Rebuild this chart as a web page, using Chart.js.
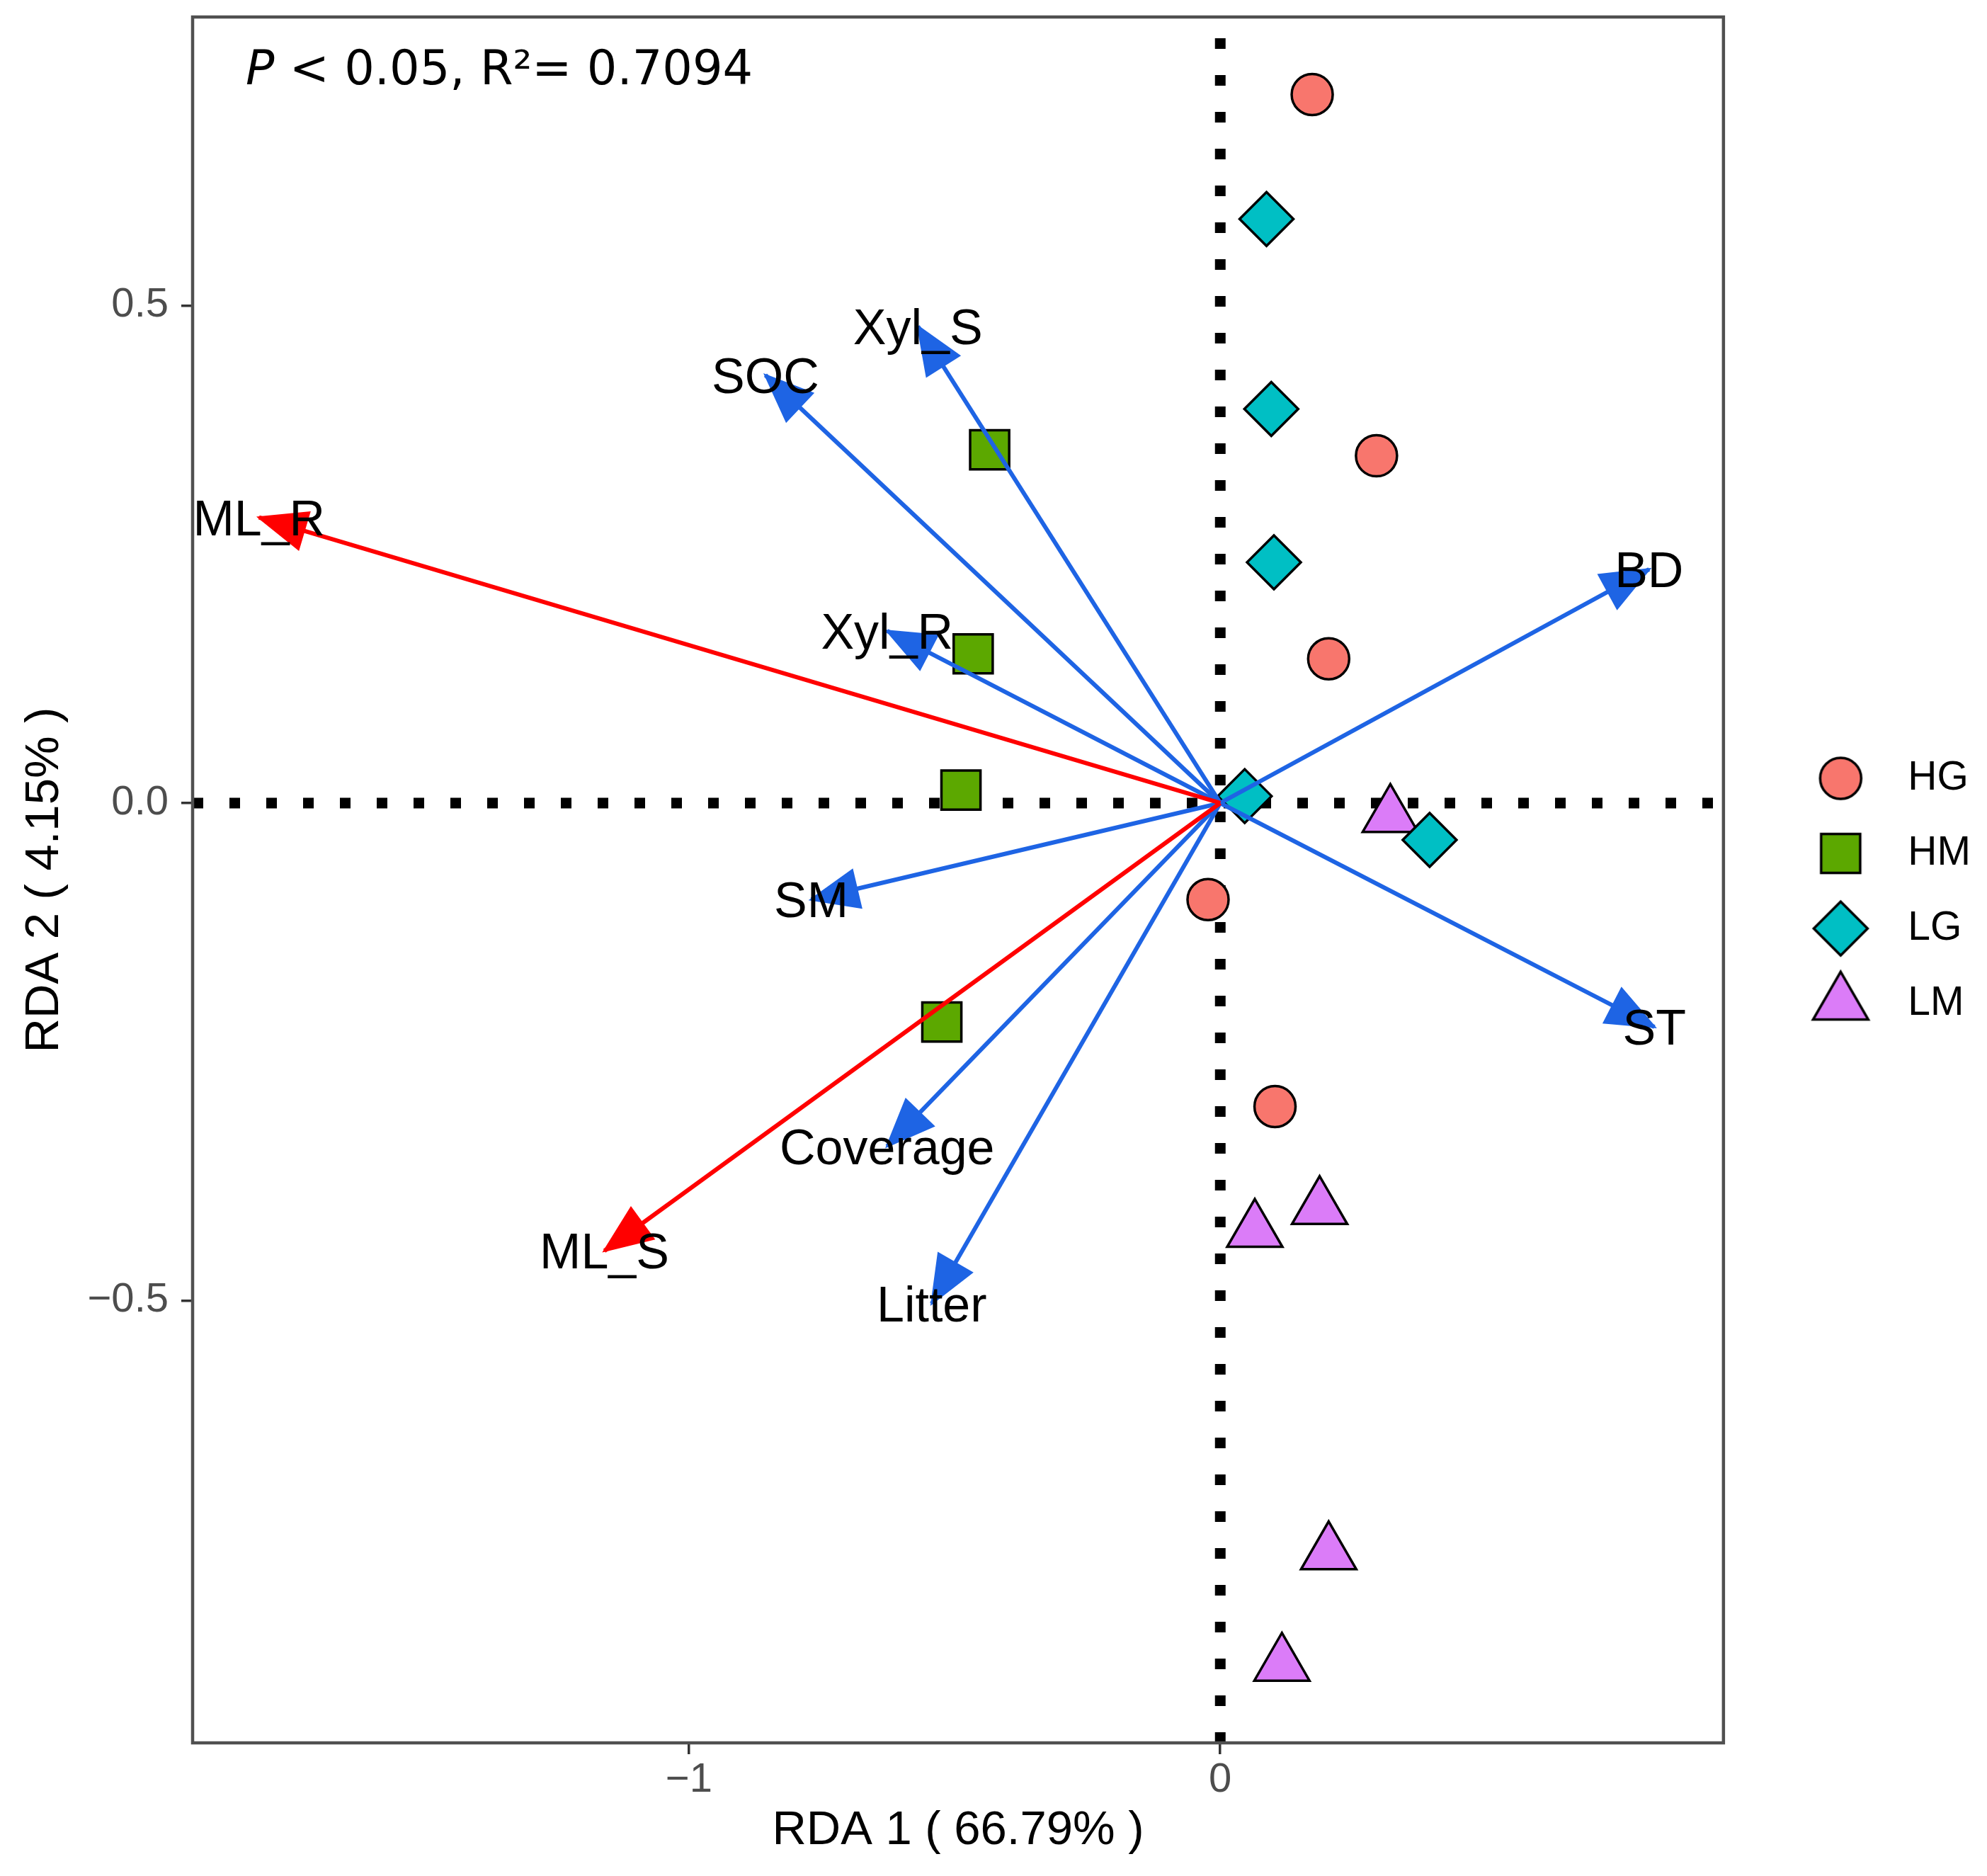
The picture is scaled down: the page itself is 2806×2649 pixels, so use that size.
<!DOCTYPE html>
<html>
<head>
<meta charset="utf-8">
<script src="https://cdn.jsdelivr.net/npm/chart.js@4.4.1/dist/chart.umd.min.js"></script>
<style>html,body{margin:0;padding:0;background:#fff}</style>
</head>
<body>
<canvas id="rda" width="2806" height="2649"></canvas>
<script>
// sample groups
const groups = ['HG', 'HM', 'LG', 'LM'];
const hgX = [0.173, 0.294, 0.204, -0.023, 0.103];
const hgY = [0.712, 0.349, 0.145, -0.097, -0.305];
const hmX = [-0.434, -0.465, -0.488, -0.524];
const hmY = [0.355, 0.150, 0.013, -0.220];
const lgX = [0.087, 0.096, 0.101, 0.046, 0.394];
const lgY = [0.587, 0.396, 0.242, 0.007, -0.037];
const lmX = [0.320, 0.187, 0.065, 0.204, 0.116];
const lmY = [-0.013, -0.407, -0.430, -0.754, -0.866];

// environmental vectors (arrow tips)
const envNames = ['ML_R', 'ML_S', 'SOC', 'Xyl_S', 'Xyl_R', 'SM', 'Coverage', 'Litter', 'BD', 'ST'];
const envX = [-1.809, -1.159, -0.856, -0.569, -0.627, -0.770, -0.627, -0.543, 0.807, 0.817];
const envY = [0.287, -0.450, 0.430, 0.479, 0.173, -0.097, -0.345, -0.503, 0.235, -0.225];
const keyVars = ['ML_R', 'ML_S'];

// axes
const xLimits = [-1.934, 0.947];
const yLimits = [-0.9445, 0.790];
const xTicks = [-1, 0];
const yTicks = [-0.5, 0.0, 0.5];
const xTitle = 'RDA 1 ( 66.79% )';
const yTitle = 'RDA 2 ( 4.15% )';
const statP = 'P';
const statRest = ' < 0.05, R\u00b2= 0.7094';

const groupColors = ['#F8766D', '#5CA800', '#00BFC4', '#DB7CF8'];
const groupShapes = ['circle', 'rect', 'rectRot', 'triangle'];
const groupRadius = [29, 39, 38, 45];
const groupX = [hgX, hmX, lgX, lmX];
const groupY = [hgY, hmY, lgY, lmY];

Chart.defaults.font.family = '"Liberation Sans", Arial, sans-serif';

const minus = v => (v < 0 ? '\u2212' : '') + Math.abs(v);

function legendImage(i) {
    const r = groupRadius[i];
    const s = Math.ceil(2 * r + 12);
    const c = document.createElement('canvas');
    c.width = s; c.height = s;
    const g = c.getContext('2d');
    g.fillStyle = groupColors[i];
    g.strokeStyle = '#000';
    g.lineWidth = 3.5;
    if (Chart.helpers && Chart.helpers.drawPoint) {
        Chart.helpers.drawPoint(g, {pointStyle: groupShapes[i], radius: r, rotation: 0, borderWidth: 3.5}, s / 2, s / 2);
        return c;
    }
    return groupShapes[i];
}
const legendImgs = groups.map((_, i) => legendImage(i));

const datasets = [];

groups.forEach((name, i) => {
    datasets.push({
        label: name,
        data: groupX[i].map((x, k) => ({x, y: groupY[i][k]})),
        pointStyle: groupShapes[i],
        pointRadius: groupRadius[i],
        pointHoverRadius: groupRadius[i],
        backgroundColor: groupColors[i],
        borderColor: '#000',
        borderWidth: 3.5,
        order: 2
    });
});

envNames.forEach((name, i) => {
    const col = keyVars.includes(name) ? '#FF0000' : '#1E64E4';
    datasets.push({
        label: name,
        isArrow: true,
        data: [{x: 0, y: 0}, {x: envX[i], y: envY[i]}],
        showLine: true,
        borderColor: col,
        backgroundColor: col,
        borderWidth: 6,
        pointRadius: 0,
        order: 1
    });
});

/* zero reference lines */
datasets.push({
    label: 'zeroX',
    data: [{x: 0, y: yLimits[0]}, {x: 0, y: yLimits[1]}],
    showLine: true, borderColor: '#000', borderWidth: 15, borderDash: [15, 37],
    pointRadius: 0, order: 3
});
datasets.push({
    label: 'zeroY',
    data: [{x: xLimits[0], y: 0}, {x: xLimits[1], y: 0}],
    showLine: true, borderColor: '#000', borderWidth: 15, borderDash: [15, 37],
    pointRadius: 0, order: 3
});

const arrowPlugin = {
    id: 'arrows',
    afterDatasetsDraw(chart) {
        const ctx = chart.ctx;
        chart.data.datasets.forEach((ds, i) => {
            if (!ds.isArrow) return;
            const pts = chart.getDatasetMeta(i).data;
            const a = pts[0], b = pts[1];
            const ang = Math.atan2(b.y - a.y, b.x - a.x);
            ctx.save();
            ctx.translate(b.x, b.y);
            ctx.rotate(ang);
            ctx.beginPath();
            ctx.moveTo(0, 0);
            ctx.lineTo(-66, -27);
            ctx.lineTo(-66, 27);
            ctx.closePath();
            ctx.fillStyle = ds.borderColor;
            ctx.strokeStyle = ds.borderColor;
            ctx.lineWidth = 3;
            ctx.fill();
            ctx.stroke();
            ctx.restore();
        });
        ctx.save();
        ctx.font = '70px "Liberation Sans", Arial, sans-serif';
        ctx.fillStyle = '#000';
        ctx.textAlign = 'center';
        ctx.textBaseline = 'alphabetic';
        chart.data.datasets.forEach((ds, i) => {
            if (!ds.isArrow) return;
            const b = chart.getDatasetMeta(i).data[1];
            ctx.fillText(ds.label, b.x, b.y + 25);
        });
        ctx.restore();
    }
};

const framePlugin = {
    id: 'frame',
    afterDraw(chart) {
        const {ctx, chartArea: a} = chart;
        ctx.save();
        ctx.strokeStyle = '#505050';
        ctx.lineWidth = 4.5;
        ctx.strokeRect(a.left, a.top, a.right - a.left, a.bottom - a.top);
        // stats text
        ctx.fillStyle = '#000';
        ctx.textBaseline = 'alphabetic';
        ctx.font = 'italic 67px "DejaVu Sans"';
        ctx.fillText(statP, 347, 119);
        const w = ctx.measureText(statP).width;
        ctx.font = '67px "DejaVu Sans"';
        ctx.fillText(statRest, 347 + w, 119);
        ctx.restore();
    }
};

const noPad = s => { s.paddingTop = 0; s.paddingBottom = 0; s.paddingLeft = 0; s.paddingRight = 0; };

new Chart(document.getElementById('rda'), {
    type: 'scatter',
    data: {datasets},
    options: {
        responsive: false,
        devicePixelRatio: 1,
        animation: false,
        layout: {autoPadding: false, padding: {top: 24, right: 13, bottom: 0, left: 0}},
        scales: {
            x: {
                type: 'linear',
                min: xLimits[0],
                max: xLimits[1],
                afterBuildTicks: s => { s.ticks = xTicks.map(value => ({value})); },
                afterFit: s => { s.height = 188; noPad(s); },
                grid: {drawOnChartArea: false, drawTicks: true, tickLength: 16, color: '#333', lineWidth: 3.5},
                border: {display: false},
                ticks: {callback: v => minus(v), color: '#4D4D4D', font: {size: 58}, padding: 2},
                title: {display: true, text: xTitle, color: '#000', font: {size: 67}, padding: {top: 0, bottom: 23}}
            },
            y: {
                type: 'linear',
                min: yLimits[0],
                max: yLimits[1],
                afterBuildTicks: s => { s.ticks = yTicks.map(value => ({value})); },
                afterFit: s => { s.width = 272; noPad(s); },
                grid: {drawOnChartArea: false, drawTicks: true, tickLength: 16, color: '#333', lineWidth: 3.5},
                border: {display: false},
                ticks: {callback: v => (v < 0 ? '\u2212' : '') + Math.abs(v).toFixed(1), color: '#4D4D4D', font: {size: 58}, padding: 18},
                title: {display: true, text: yTitle, color: '#000', font: {size: 67}, padding: {top: 23, bottom: 0}}
            },
            gap: {
                type: 'linear',
                axis: 'y',
                position: 'right',
                display: true,
                grid: {display: false, drawTicks: false},
                border: {display: false},
                ticks: {display: false},
                afterFit: s => { s.width = 50; noPad(s); }
            }
        },
        plugins: {
            tooltip: {enabled: false},
            legend: {
                position: 'right',
                fullSize: false,
                title: {display: true, text: ' ', padding: 0, font: {size: 26, lineHeight: 1.2}},
                labels: {
                    usePointStyle: true,
                    pointStyleWidth: 133,
                    boxHeight: 57,
                    padding: 49,
                    color: '#000',
                    font: {size: 57},
                    generateLabels(chart) {
                        const items = Chart.defaults.plugins.legend.labels.generateLabels(chart);
                        return items.filter(it => groups.includes(it.text)).map(it => {
                            it.pointStyle = legendImgs[groups.indexOf(it.text)];
                            return it;
                        });
                    }
                }
            }
        }
    },
    plugins: [arrowPlugin, framePlugin]
});
</script>
</body>
</html>
